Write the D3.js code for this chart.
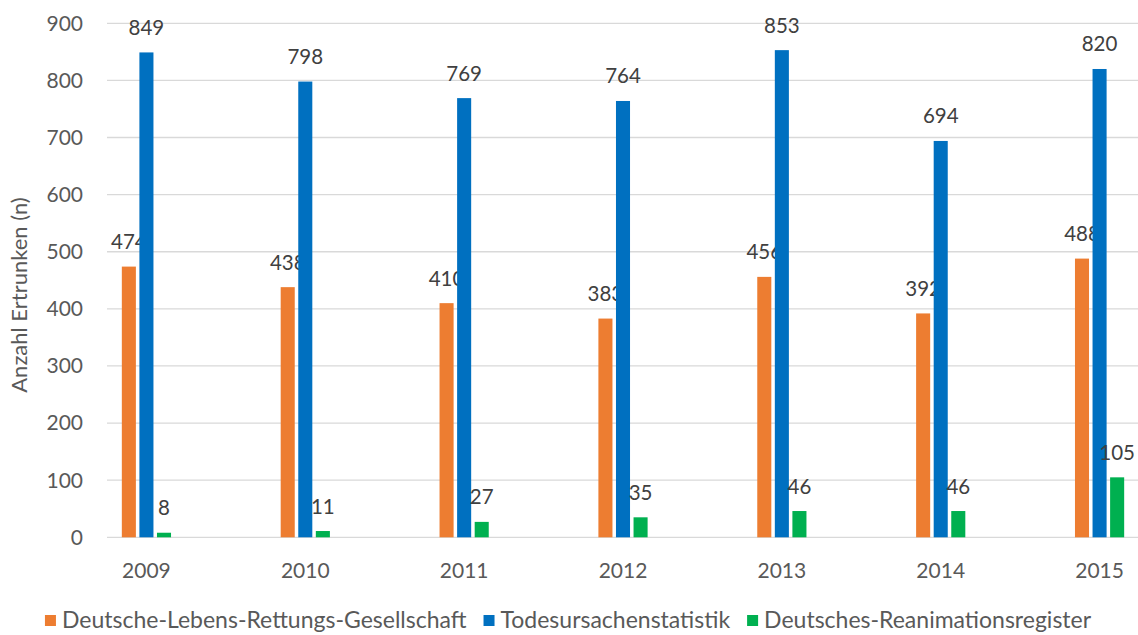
<!DOCTYPE html>
<html>
<head>
<meta charset="utf-8">
<script src="https://cdn.jsdelivr.net/npm/d3@7"></script>
<style>
  body { margin: 0; background: #ffffff; }
  svg { display: block; font-family: Lato, "Open Sans", sans-serif; }
</style>
</head>
<body>
<svg id="chart" width="1138" height="635"></svg>
<script>
// data
let years = ["2009", "2010", "2011", "2012", "2013", "2014", "2015"];
let seriesNames = ["Deutsche-Lebens-Rettungs-Gesellschaft", "Todesursachenstatistik", "Deutsches-Reanimationsregister"];
let dlrgValues = [474, 438, 410, 383, 456, 392, 488];
let todesValues = [849, 798, 769, 764, 853, 694, 820];
let reaValues = [8, 11, 27, 35, 46, 46, 105];
let yTicks = [0, 100, 200, 300, 400, 500, 600, 700, 800, 900];

let seriesColors = ["#ED7D31", "#0070C0", "#00B050"];
let tickColor = "#595959";
let labelColor = "#404040";
let gridColor = "#d9d9d9";

let svg = d3.select("#chart");
let allValues = [dlrgValues, todesValues, reaValues];

// category step (~159px), first centre at ~146
let x = d3.scaleBand()
  .domain(years)
  .range([67, 1179])
  .padding(0);

let inner = d3.scaleBand()
  .domain(d3.range(seriesNames.length))
  .range([-24.6, 24.6])
  .paddingInner(0.2);

let y = d3.scaleLinear()
  .domain([0, 900])
  .range([537.3, 23.3]);

// gridlines
svg.append("g")
  .selectAll("line")
  .data(yTicks)
  .join("line")
  .attr("x1", 107)
  .attr("x2", 1138)
  .attr("y1", d => y(d))
  .attr("y2", d => y(d))
  .attr("stroke", gridColor)
  .attr("stroke-width", 1.3);

// y tick labels
svg.append("g")
  .selectAll("text")
  .data(yTicks)
  .join("text")
  .attr("x", 83)
  .attr("y", d => y(d))
  .attr("dy", "0.35em")
  .attr("text-anchor", "end")
  .attr("font-size", 21)
  .attr("fill", tickColor)
  .text(d => d);

// y axis title
svg.append("text")
  .attr("transform", "translate(27,295) rotate(-90)")
  .attr("text-anchor", "middle")
  .attr("font-size", 22)
  .attr("fill", tickColor)
  .text("Anzahl Ertrunken (n)");

// x labels
svg.append("g")
  .selectAll("text")
  .data(years)
  .join("text")
  .attr("x", d => x(d) + x.bandwidth() / 2)
  .attr("y", 578)
  .attr("text-anchor", "middle")
  .attr("font-size", 21)
  .attr("fill", tickColor)
  .text(d => d);

// bars and labels per series
for (let s = 0; s < allValues.length; s++)
{
  let values = allValues[s];
  let g = svg.append("g");

  g.selectAll("rect")
    .data(values)
    .join("rect")
    .attr("x", (d, i) => x(years[i]) + x.bandwidth() / 2 + inner(s))
    .attr("y", d => y(d))
    .attr("width", inner.bandwidth())
    .attr("height", d => y(0) - y(d))
    .attr("fill", seriesColors[s]);

  g.selectAll("text")
    .data(values)
    .join("text")
    .attr("x", (d, i) => x(years[i]) + x.bandwidth() / 2 + inner(s) + inner.bandwidth() / 2)
    .attr("y", d => y(d) - 17.5)
    .attr("text-anchor", "middle")
    .attr("font-size", 20.5)
    .attr("fill", labelColor)
    .text(d => d);
}

// legend, centred under the chart
let legend = svg.append("g");
let legendX = 0;
for (let s = 0; s < seriesNames.length; s++)
{
  let item = legend.append("g");
  item.append("rect")
    .attr("x", 0)
    .attr("y", -13)
    .attr("width", 11)
    .attr("height", 11)
    .attr("fill", seriesColors[s]);
  let t = item.append("text")
    .attr("x", 17)
    .attr("y", 0)
    .attr("font-size", 23)
    .attr("fill", tickColor)
    .text(seriesNames[s]);
  item.attr("transform", "translate(" + legendX + ",0)");
  legendX += 17 + t.node().getComputedTextLength() + 17;
}
let legendWidth = legendX - 17;
legend.attr("transform", "translate(" + (568 - legendWidth / 2) + ",628)");
</script>
</body>
</html>
